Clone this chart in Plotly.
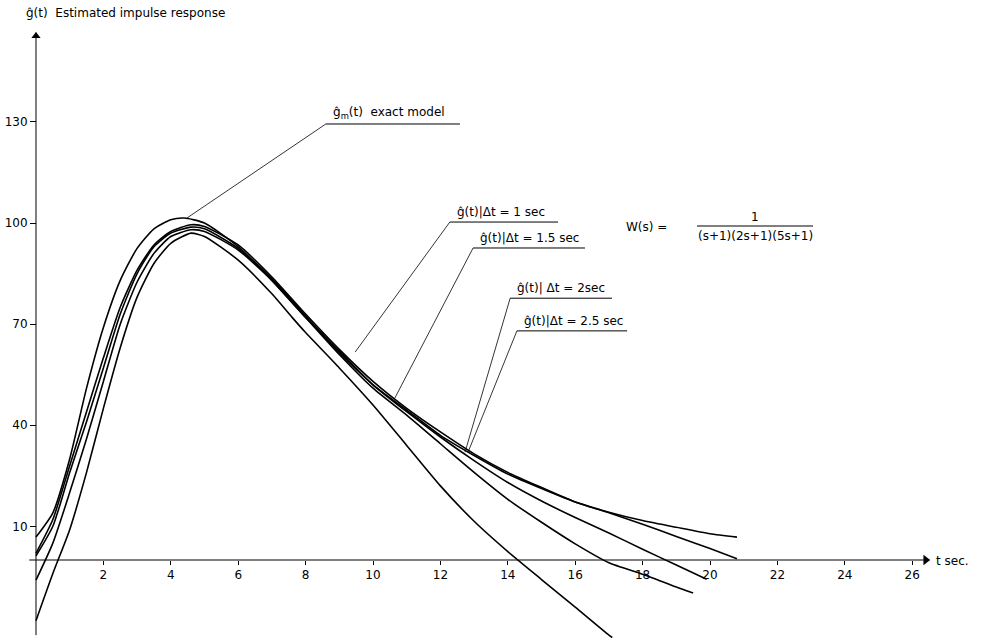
import plotly.graph_objects as go

# ---------------- data ----------------
t_exact = [0, 0.5, 1, 1.5, 2, 2.5, 3, 3.5, 4, 4.4, 5, 6, 7, 8, 9, 10, 11, 12, 13, 14, 15, 16, 17, 18, 19, 20, 20.8]
g_exact = [6.8, 14, 30, 51, 69, 83, 92.5, 98.3, 101, 101.5, 100, 93, 83, 72, 62, 52, 44.5, 37, 31, 25.5, 21.2, 17.2, 14.2, 11.7, 9.7, 7.8, 6.8]

t_dt1 = [0, 0.5, 1, 1.5, 2, 2.5, 3, 3.5, 4, 4.6, 5, 6, 7, 8, 9, 10, 11, 12, 13, 14, 15, 16, 17, 18, 19, 20, 20.8]
g_dt1 = [2, 12, 28, 44, 60, 75, 86, 93.5, 97.5, 99.5, 99, 93.5, 84, 73, 62.5, 53, 45, 38, 31.5, 26, 21.5, 17.2, 14, 10.6, 7, 3.4, 0.4]

t_dt15 = [0, 0.5, 1, 1.5, 2, 2.5, 3, 3.5, 4, 4.6, 5, 6, 7, 8, 9, 10, 11, 12, 13, 14, 15, 16, 17, 18, 19, 19.9]
g_dt15 = [1.2, 10, 26, 41, 57, 73, 85, 93, 97, 98.8, 98.3, 92.5, 83.5, 72.5, 61.5, 52, 44, 36.5, 29.5, 23, 17.5, 12.6, 8, 3.2, -1.5, -5.7]

t_dt2 = [0, 0.5, 1, 1.5, 2, 2.5, 3, 3.5, 4, 4.6, 5, 6, 7, 8, 9, 10, 11, 12, 13, 14, 15, 16, 17, 18, 19, 19.5]
g_dt2 = [-6, 5, 20, 36, 53, 70, 82.5, 91, 96, 98, 97.5, 92, 83, 72, 61, 51, 43, 34.5, 26, 18, 11.2, 4.8, -0.8, -4.2, -8, -9.8]

t_dt25 = [0, 0.5, 1, 1.5, 2, 2.5, 3, 3.5, 4, 4.6, 5, 6, 7, 7.6, 8, 9, 10, 11, 12, 13, 14, 15, 16, 17, 17.1]
g_dt25 = [-18, -4, 9, 26, 45, 63, 78, 88, 94, 97, 96, 89, 79, 72, 67.5, 57, 46, 34, 22, 11.5, 2.5, -5.8, -14, -22.3, -23]

x_ticks = [2, 4, 6, 8, 10, 12, 14, 16, 18, 20, 22, 24, 26]
x_ticktext = ["2", "4", "6", "8", "10", "12", "14", "16", "18", "20", "22", "24", "26"]
y_ticks = [10, 40, 70, 100, 130]
y_ticktext = ["10", "40", "70", "100", "130"]

series = [
    (t_exact, g_exact, "exact model"),
    (t_dt1, g_dt1, "Δt = 1 sec"),
    (t_dt15, g_dt15, "Δt = 1.5 sec"),
    (t_dt2, g_dt2, "Δt = 2 sec"),
    (t_dt25, g_dt25, "Δt = 2.5 sec"),
]

# ---------------- figure ----------------
W, H = 984, 638
X_RANGE = [-1.068, 28.13]
Y_RANGE = [-23.15, 166.2]
X_AXIS_END = 26.6
Y_AXIS_END = 158.5
FONT = "DejaVu Sans"
FS = 12

fig = go.Figure()
for t, g, name in series:
    fig.add_trace(go.Scatter(
        x=t, y=g, mode="lines", name=name,
        line=dict(color="black", width=1.6, shape="spline", smoothing=0.6),
        hoverinfo="skip", showlegend=False,
    ))

xpos = (0 - Y_RANGE[0]) / (Y_RANGE[1] - Y_RANGE[0])
ypos = (0 - X_RANGE[0]) / (X_RANGE[1] - X_RANGE[0])

fig.update_layout(
    width=W, height=H,
    margin=dict(l=0, r=0, t=0, b=0),
    paper_bgcolor="white", plot_bgcolor="white",
    showlegend=False,
    font=dict(family=FONT, color="black", size=FS),
    xaxis=dict(range=X_RANGE, anchor="free", position=xpos,
               tickvals=x_ticks, ticktext=x_ticktext,
               ticks="outside", ticklen=4, tickwidth=1, tickcolor="black",
               showgrid=False, zeroline=False, showline=False,
               tickfont=dict(family=FONT, size=FS, color="black"), automargin=False),
    yaxis=dict(range=Y_RANGE, anchor="free", position=ypos,
               tickvals=y_ticks, ticktext=y_ticktext,
               ticks="outside", ticklen=6, tickwidth=1, tickcolor="black",
               showgrid=False, zeroline=False, showline=False,
               tickfont=dict(family=FONT, size=FS, color="black"), automargin=False),
)

# axis lines with arrowheads
fig.add_shape(type="line", xref="x", yref="y", x0=-0.2, y0=0, x1=X_AXIS_END - 0.2, y1=0,
              line=dict(color="black", width=1))
fig.add_shape(type="line", xref="x", yref="y", x0=0, y0=-22.3, x1=0, y1=Y_AXIS_END - 2,
              line=dict(color="black", width=1))
fig.add_trace(go.Scatter(x=[X_AXIS_END - 0.2], y=[0], mode="markers",
                         marker=dict(symbol="triangle-right", size=9, color="black"),
                         hoverinfo="skip", showlegend=False))
fig.add_trace(go.Scatter(x=[0], y=[Y_AXIS_END - 3], mode="markers",
                         marker=dict(symbol="triangle-up", size=8, color="black"),
                         hoverinfo="skip", showlegend=False))

def px(xp):
    return xp / W

def py(yp):
    return 1 - yp / H

# axis titles
fig.add_annotation(x=px(24), y=py(13), xref="paper", yref="paper", xanchor="left", yanchor="middle",
                   text="ĝ(t)  Estimated impulse response", showarrow=False,
                   font=dict(family=FONT, size=FS, color="black"))
fig.add_annotation(x=px(934), y=py(561), xref="paper", yref="paper", xanchor="left", yanchor="middle",
                   text="t sec.", showarrow=False, font=dict(family=FONT, size=FS, color="black"))

# labels with underline + leader line: (text, underline x0, x1, y, leader end t, g)
labels = [
    ("ĝ<sub>m</sub>(t)  exact model", 8.6, 12.58, 129.4, 4.48, 101.5),
    ("ĝ(t)|Δt = 1 sec", 12.28, 15.49, 100.3, 9.47, 61.7),
    ("ĝ(t)|Δt = 1.5 sec", 12.97, 16.29, 92.6, 10.65, 48.1),
    ("ĝ(t)| Δt = 2sec", 14.07, 17.09, 77.7, 12.73, 32.0),
    ("ĝ(t)|Δt = 2.5 sec", 14.27, 17.54, 68.0, 12.82, 32.0),
]
for text, ux0, ux1, uy, lt, lg in labels:
    fig.add_shape(type="line", xref="x", yref="y", x0=ux0, y0=uy, x1=ux1, y1=uy,
                  line=dict(color="black", width=1))
    fig.add_shape(type="line", xref="x", yref="y", x0=ux0, y0=uy, x1=lt, y1=lg,
                  line=dict(color="black", width=0.8))
    fig.add_annotation(x=ux0 + 0.15, y=uy + 0.4, xref="x", yref="y", xanchor="left", yanchor="bottom",
                       text=text, showarrow=False, font=dict(family=FONT, size=FS, color="black"))

# transfer function
fig.add_annotation(x=px(624), y=py(227), xref="paper", yref="paper", xanchor="left", yanchor="middle",
                   text="W(s) =", showarrow=False, font=dict(family=FONT, size=FS, color="black"))
fig.add_annotation(x=px(755), y=py(217), xref="paper", yref="paper", xanchor="center", yanchor="middle",
                   text="1", showarrow=False, font=dict(family=FONT, size=FS, color="black"))
fig.add_shape(type="line", xref="paper", yref="paper", x0=px(697), y0=py(226), x1=px(813), y1=py(226),
              line=dict(color="black", width=1))
fig.add_annotation(x=px(755), y=py(236), xref="paper", yref="paper", xanchor="center", yanchor="middle",
                   text="(s+1)(2s+1)(5s+1)", showarrow=False, font=dict(family=FONT, size=FS, color="black"))

fig.write_html("out.html")
